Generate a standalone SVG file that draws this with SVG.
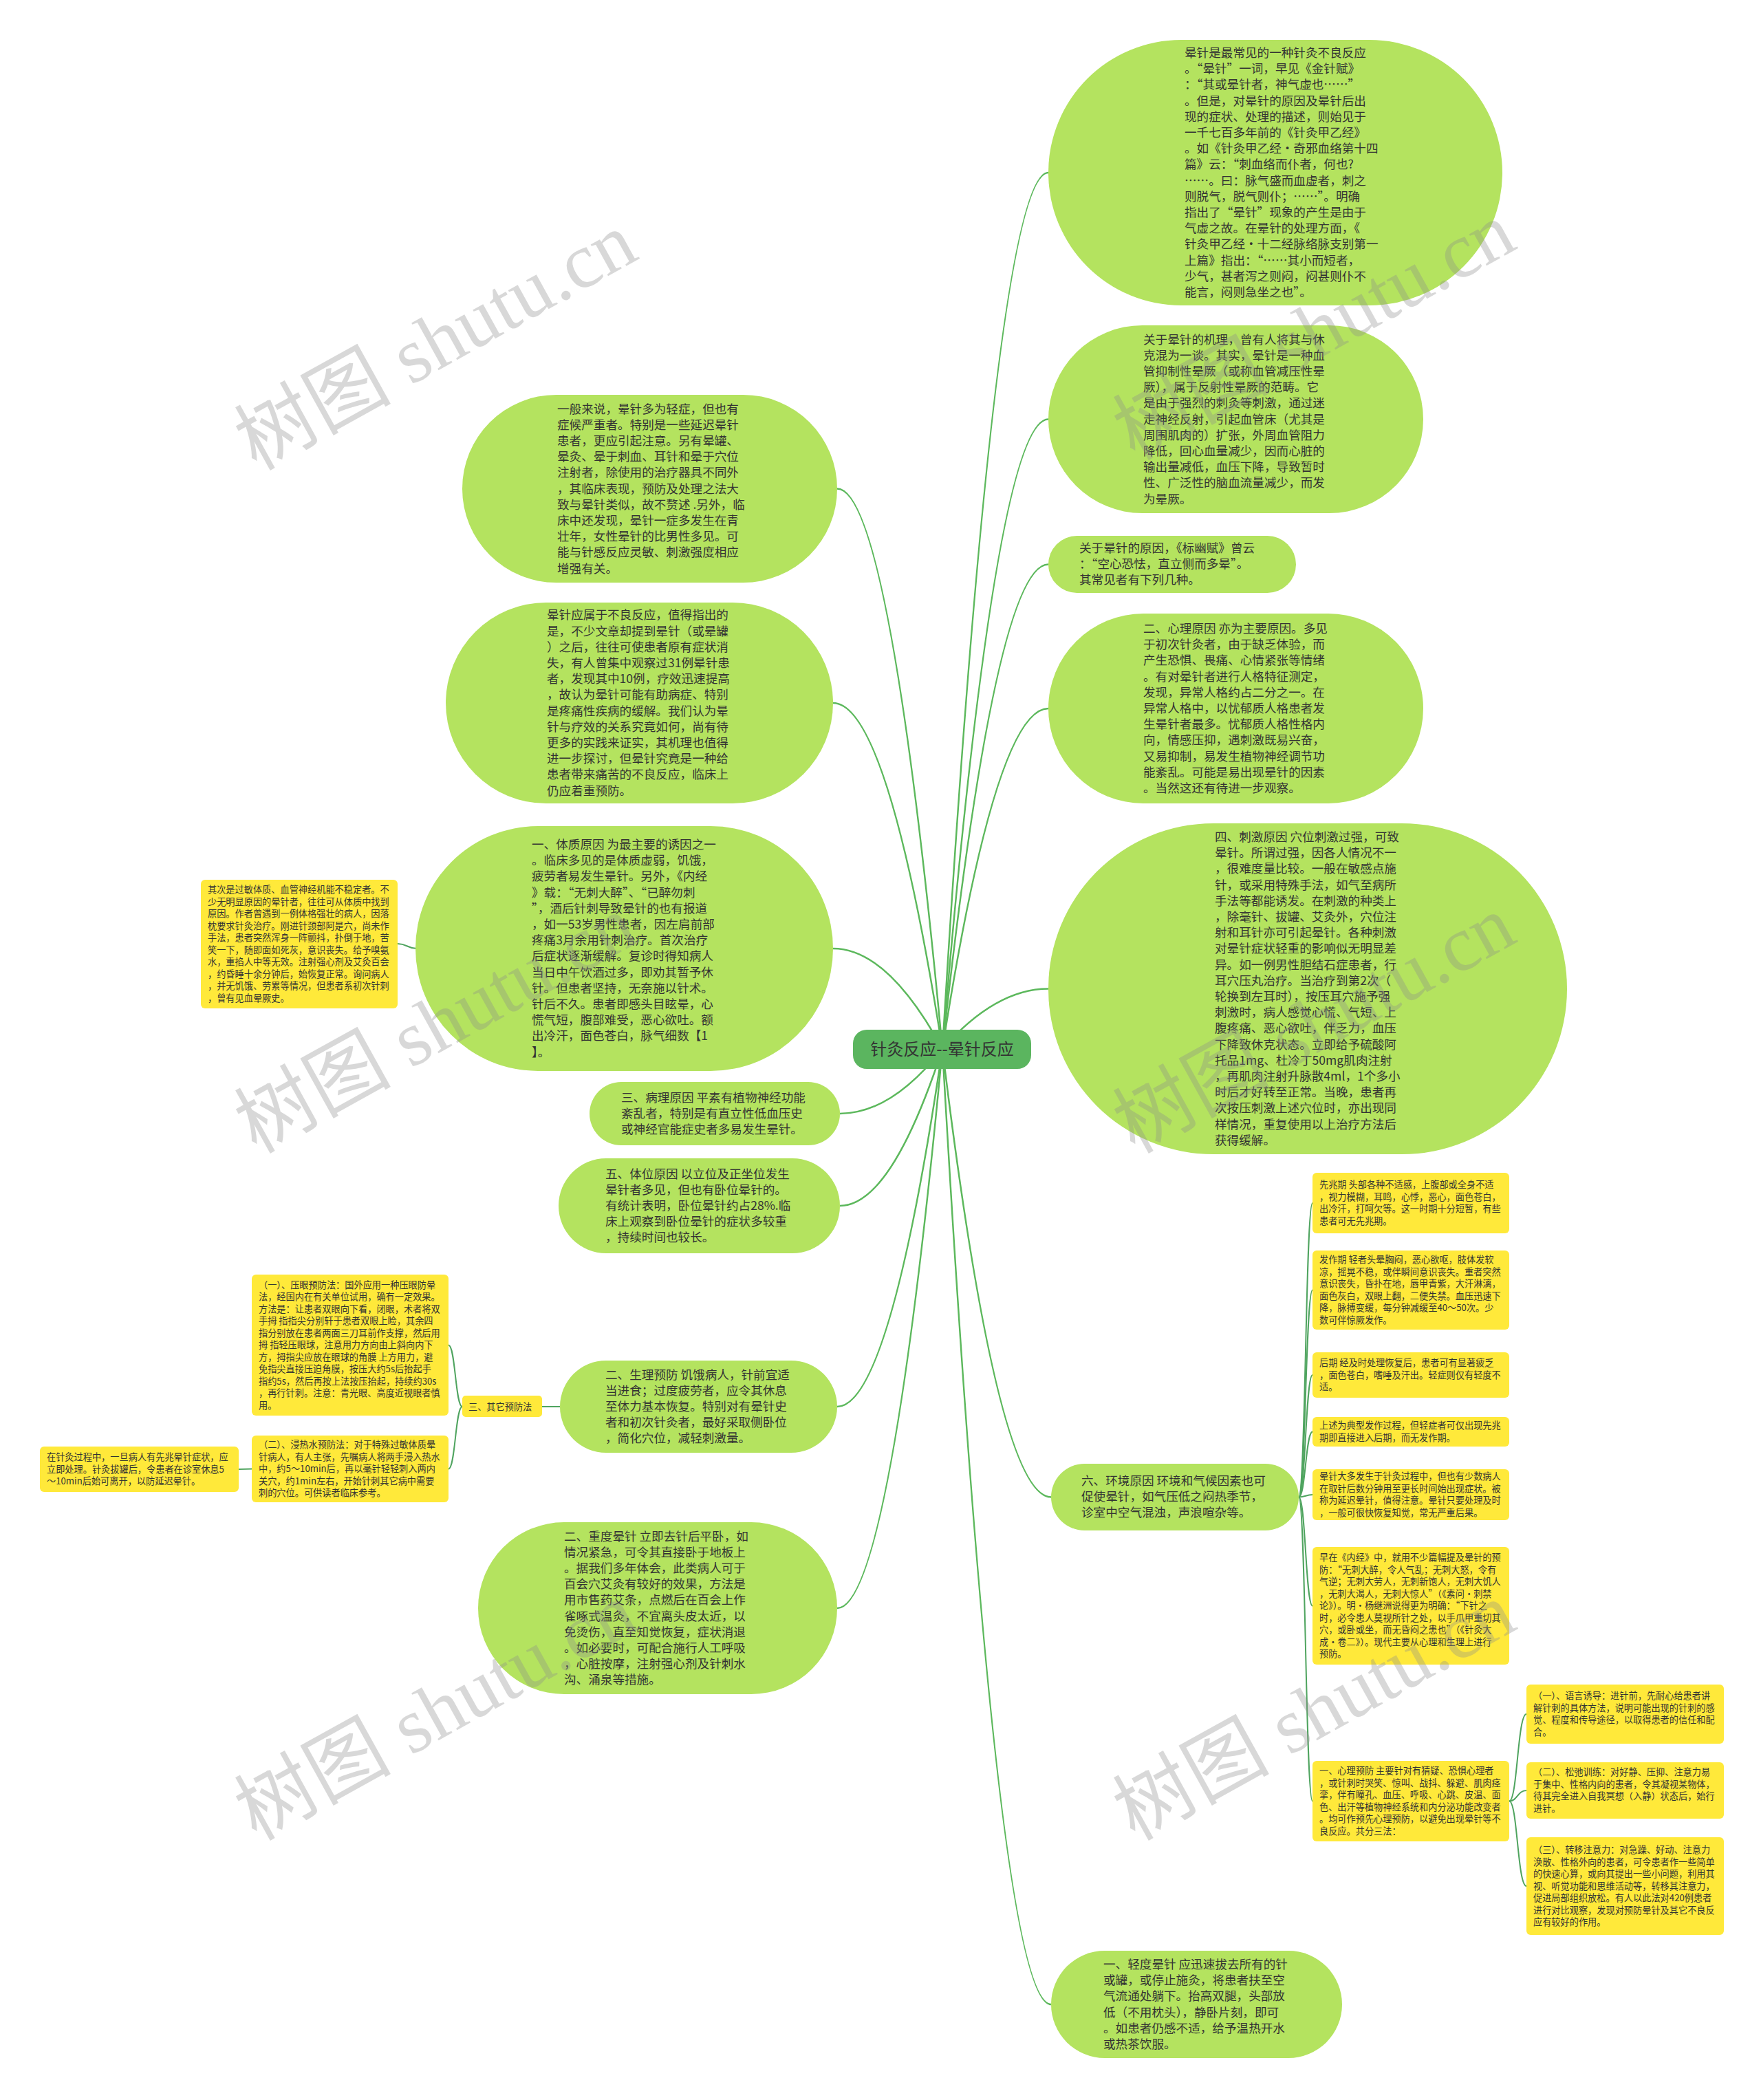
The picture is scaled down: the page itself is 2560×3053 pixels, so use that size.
<svg xmlns="http://www.w3.org/2000/svg" width="2560" height="3053" viewBox="0 0 2560 3053">
<style>
.b{fill:#b4e35f}
.y{fill:#ffe93a}
.c{fill:#5bb55f}
.t{font-family:"Noto Sans CJK SC","Noto Sans",sans-serif;font-size:17.6px;fill:#333}
.s{font-family:"Noto Sans CJK SC","Noto Sans",sans-serif;font-size:13.2px;fill:#333}
.ct{font-family:"Noto Sans CJK SC","Noto Sans",sans-serif;font-size:24px;fill:#333}
.e{fill:none;stroke:#5cb85c;stroke-width:2.5}
.f{fill:none;stroke:#4fa45f;stroke-width:2}
.w{font-family:"Liberation Serif","Noto Sans CJK SC",serif;font-size:114px;fill:#8c8c8c;opacity:.33}
</style>
<rect width="2560" height="3053" fill="#fff"/>
<g id="connectors">
<path class="e" d="M1370 1525 Q1447 251 1524 251"/>
<path class="e" d="M1370 1525 Q1447 609.5 1524 609.5"/>
<path class="e" d="M1370 1525 Q1447 820.5 1524 820.5"/>
<path class="e" d="M1370 1525 Q1447 1030 1524 1030"/>
<path class="e" d="M1370 1525 Q1447 1437.5 1524 1437.5"/>
<path class="e" d="M1370 1525 Q1449 2176.5 1528 2176.5"/>
<path class="e" d="M1370 1525 Q1449 2914 1528 2914"/>
<path class="e" d="M1370 1525 Q1293.5 710.5 1217 710.5"/>
<path class="e" d="M1370 1525 Q1290.5 1022 1211 1022"/>
<path class="e" d="M1370 1525 Q1290.5 1379 1211 1379"/>
<path class="e" d="M1370 1525 Q1295.5 1619 1221 1619"/>
<path class="e" d="M1370 1525 Q1295.5 1753 1221 1753"/>
<path class="e" d="M1370 1525 Q1293.5 2045 1217 2045"/>
<path class="e" d="M1370 1525 Q1293.5 2338 1217 2338"/>
<path class="f" d="M606 1379 C592 1379 592 1372 578 1372"/>
<path class="f" d="M814 2045 L788 2045"/>
<path class="f" d="M672 2045 C662 2045 662 1955.5 652 1955.5"/>
<path class="f" d="M672 2045 C662 2045 662 2135.5 652 2135.5"/>
<path class="f" d="M366 2135.5 L347 2136"/>
<path class="f" d="M1888 2176.5 C1898 2176.5 1898 1749 1908 1749"/>
<path class="f" d="M1888 2176.5 C1898 2176.5 1898 1875.5 1908 1875.5"/>
<path class="f" d="M1888 2176.5 C1898 2176.5 1898 1999 1908 1999"/>
<path class="f" d="M1888 2176.5 C1898 2176.5 1898 2081.5 1908 2081.5"/>
<path class="f" d="M1888 2176.5 C1898 2176.5 1898 2173 1908 2173"/>
<path class="f" d="M1888 2176.5 C1898 2176.5 1898 2334.5 1908 2334.5"/>
<path class="f" d="M1888 2176.5 C1898 2176.5 1898 2618.5 1908 2618.5"/>
<path class="f" d="M2194 2618.5 C2206 2618.5 2206 2492 2219 2492"/>
<path class="f" d="M2194 2618.5 C2206 2618.5 2206 2603 2219 2603"/>
<path class="f" d="M2194 2618.5 C2206 2618.5 2206 2742 2219 2742"/>
</g>
<g id="node-center">
<rect class="c" x="1240" y="1497" width="259" height="57" rx="20"/>
<text class="ct" x="1369.5" y="1533.5" text-anchor="middle">针灸反应--晕针反应</text>
</g>
<g id="node-r1">
<rect class="b" x="1524" y="58" width="660" height="386" rx="193"/>
<text class="t" y="83"><tspan x="1722">晕针是最常见的一种针灸不良反应</tspan><tspan x="1722" dy="23.2">。“晕针”一词，早见《金针赋》</tspan><tspan x="1722" dy="23.2">：“其或晕针者，神气虚也……”</tspan><tspan x="1722" dy="23.2">。但是，对晕针的原因及晕针后出</tspan><tspan x="1722" dy="23.2">现的症状、处理的描述，则始见于</tspan><tspan x="1722" dy="23.2">一千七百多年前的《针灸甲乙经》</tspan><tspan x="1722" dy="23.2">。如《针灸甲乙经·奇邪血络第十四</tspan><tspan x="1722" dy="23.2">篇》云：“刺血络而仆者，何也?</tspan><tspan x="1722" dy="23.2">……。曰：脉气盛而血虚者，刺之</tspan><tspan x="1722" dy="23.2">则脱气，脱气则仆；……”。明确</tspan><tspan x="1722" dy="23.2">指出了“晕针”现象的产生是由于</tspan><tspan x="1722" dy="23.2">气虚之故。在晕针的处理方面，《</tspan><tspan x="1722" dy="23.2">针灸甲乙经·十二经脉络脉支别第一</tspan><tspan x="1722" dy="23.2">上篇》指出：“……其小而短者，</tspan><tspan x="1722" dy="23.2">少气，甚者泻之则闷，闷甚则仆不</tspan><tspan x="1722" dy="23.2">能言，闷则急坐之也”。</tspan></text>
</g>
<g id="node-r2">
<rect class="b" x="1524" y="473" width="545" height="273" rx="136.5"/>
<text class="t" y="499.5"><tspan x="1662">关于晕针的机理，曾有人将其与休</tspan><tspan x="1662" dy="23.2">克混为一谈。其实，晕针是一种血</tspan><tspan x="1662" dy="23.2">管抑制性晕厥（或称血管减压性晕</tspan><tspan x="1662" dy="23.2">厥），属于反射性晕厥的范畴。它</tspan><tspan x="1662" dy="23.2">是由于强烈的刺灸等刺激，通过迷</tspan><tspan x="1662" dy="23.2">走神经反射，引起血管床（尤其是</tspan><tspan x="1662" dy="23.2">周围肌肉的）扩张，外周血管阻力</tspan><tspan x="1662" dy="23.2">降低，回心血量减少，因而心脏的</tspan><tspan x="1662" dy="23.2">输出量减低，血压下降，导致暂时</tspan><tspan x="1662" dy="23.2">性、广泛性的脑血流量减少，而发</tspan><tspan x="1662" dy="23.2">为晕厥。</tspan></text>
</g>
<g id="node-r3">
<rect class="b" x="1524" y="779" width="360" height="83" rx="41.5"/>
<text class="t" y="803"><tspan x="1569">关于晕针的原因，《标幽赋》曾云</tspan><tspan x="1569" dy="23.2">：“空心恐怯，直立侧而多晕”。</tspan><tspan x="1569" dy="23.2">其常见者有下列几种。</tspan></text>
</g>
<g id="node-r4">
<rect class="b" x="1524" y="892" width="545" height="276" rx="138"/>
<text class="t" y="920"><tspan x="1662">二、心理原因 亦为主要原因。多见</tspan><tspan x="1662" dy="23.2">于初次针灸者，由于缺乏体验，而</tspan><tspan x="1662" dy="23.2">产生恐惧、畏痛、心情紧张等情绪</tspan><tspan x="1662" dy="23.2">。有对晕针者进行人格特征测定，</tspan><tspan x="1662" dy="23.2">发现，异常人格约占二分之一。在</tspan><tspan x="1662" dy="23.2">异常人格中，以忧郁质人格患者发</tspan><tspan x="1662" dy="23.2">生晕针者最多。忧郁质人格性格内</tspan><tspan x="1662" dy="23.2">向，情感压抑，遇刺激既易兴奋，</tspan><tspan x="1662" dy="23.2">又易抑制，易发生植物神经调节功</tspan><tspan x="1662" dy="23.2">能紊乱。可能是易出现晕针的因素</tspan><tspan x="1662" dy="23.2">。当然这还有待进一步观察。</tspan></text>
</g>
<g id="node-r5">
<rect class="b" x="1524" y="1197" width="754" height="481" rx="240"/>
<text class="t" y="1223"><tspan x="1766">四、刺激原因 穴位刺激过强，可致</tspan><tspan x="1766" dy="23.2">晕针。所谓过强，因各人情况不一</tspan><tspan x="1766" dy="23.2">，很难度量比较。一般在敏感点施</tspan><tspan x="1766" dy="23.2">针，或采用特殊手法，如气至病所</tspan><tspan x="1766" dy="23.2">手法等都能诱发。在刺激的种类上</tspan><tspan x="1766" dy="23.2">，除毫针、拔罐、艾灸外，穴位注</tspan><tspan x="1766" dy="23.2">射和耳针亦可引起晕针。各种刺激</tspan><tspan x="1766" dy="23.2">对晕针症状轻重的影响似无明显差</tspan><tspan x="1766" dy="23.2">异。如一例男性胆结石症患者，行</tspan><tspan x="1766" dy="23.2">耳穴压丸治疗。当治疗到第2次（</tspan><tspan x="1766" dy="23.2">轮换到左耳时），按压耳穴施予强</tspan><tspan x="1766" dy="23.2">刺激时，病人感觉心慌、气短、上</tspan><tspan x="1766" dy="23.2">腹疼痛、恶心欲吐，伴乏力，血压</tspan><tspan x="1766" dy="23.2">下降致休克状态。立即给予硫酸阿</tspan><tspan x="1766" dy="23.2">托品1mg、杜冷丁50mg肌肉注射</tspan><tspan x="1766" dy="23.2">，再肌肉注射升脉散4ml，1个多小</tspan><tspan x="1766" dy="23.2">时后才好转至正常。当晚，患者再</tspan><tspan x="1766" dy="23.2">次按压刺激上述穴位时，亦出现同</tspan><tspan x="1766" dy="23.2">样情况，重复使用以上治疗方法后</tspan><tspan x="1766" dy="23.2">获得缓解。</tspan></text>
</g>
<g id="node-r6">
<rect class="b" x="1528" y="2128" width="360" height="97" rx="48.5"/>
<text class="t" y="2159"><tspan x="1572">六、环境原因 环境和气候因素也可</tspan><tspan x="1572" dy="23.2">促使晕针，如气压低之闷热季节，</tspan><tspan x="1572" dy="23.2">诊室中空气混浊，声浪喧杂等。</tspan></text>
</g>
<g id="node-y1">
<rect class="y" x="1908" y="1705" width="286" height="88" rx="6"/>
<text class="s" y="1727.4"><tspan x="1918">先兆期 头部各种不适感，上腹部或全身不适</tspan><tspan x="1918" dy="17.5">，视力模糊，耳鸣，心悸，恶心，面色苍白，</tspan><tspan x="1918" dy="17.5">出冷汗，打呵欠等。这一时期十分短暂，有些</tspan><tspan x="1918" dy="17.5">患者可无先兆期。</tspan></text>
</g>
<g id="node-y2">
<rect class="y" x="1908" y="1818" width="286" height="115" rx="6"/>
<text class="s" y="1836.4"><tspan x="1918">发作期 轻者头晕胸闷，恶心欲呕，肢体发软</tspan><tspan x="1918" dy="17.5">凉，摇晃不稳，或伴瞬间意识丧失。重者突然</tspan><tspan x="1918" dy="17.5">意识丧失，昏扑在地，唇甲青紫，大汗淋漓，</tspan><tspan x="1918" dy="17.5">面色灰白，双眼上翻，二便失禁。血压迅速下</tspan><tspan x="1918" dy="17.5">降，脉搏变缓，每分钟减缓至40～50次。少</tspan><tspan x="1918" dy="17.5">数可伴惊厥发作。</tspan></text>
</g>
<g id="node-y3">
<rect class="y" x="1908" y="1966" width="286" height="66" rx="6"/>
<text class="s" y="1986.1"><tspan x="1918">后期 经及时处理恢复后，患者可有显著疲乏</tspan><tspan x="1918" dy="17.5">，面色苍白，嗜唾及汗出。轻症则仅有轻度不</tspan><tspan x="1918" dy="17.5">适。</tspan></text>
</g>
<g id="node-y4">
<rect class="y" x="1908" y="2060" width="286" height="43" rx="6"/>
<text class="s" y="2077.4"><tspan x="1918">上述为典型发作过程，但轻症者可仅出现先兆</tspan><tspan x="1918" dy="17.5">期即直接进入后期，而无发作期。</tspan></text>
</g>
<g id="node-y5">
<rect class="y" x="1908" y="2136" width="286" height="74" rx="6"/>
<text class="s" y="2151.4"><tspan x="1918">晕针大多发生于针灸过程中，但也有少数病人</tspan><tspan x="1918" dy="17.5">在取针后数分钟用至更长时间始出现症状。被</tspan><tspan x="1918" dy="17.5">称为延迟晕针，值得注意。晕针只要处理及时</tspan><tspan x="1918" dy="17.5">，一般可很快恢复知觉，常无严重后果。</tspan></text>
</g>
<g id="node-y6">
<rect class="y" x="1908" y="2249" width="286" height="171" rx="6"/>
<text class="s" y="2269.1"><tspan x="1918">早在《内经》中，就用不少篇幅提及晕针的预</tspan><tspan x="1918" dy="17.5">防：“无刺大醉，令人气乱；无刺大怒，令有</tspan><tspan x="1918" dy="17.5">气逆；无刺大劳人，无刺新饱人，无刺大饥人</tspan><tspan x="1918" dy="17.5">，无刺大渴人，无刺大惊人”（《素问·刺禁</tspan><tspan x="1918" dy="17.5">论》）。明·杨继洲说得更为明确：“下针之</tspan><tspan x="1918" dy="17.5">时，必令患人莫视所针之处，以手爪甲重切其</tspan><tspan x="1918" dy="17.5">穴，或卧或坐，而无昏闷之患也”（《针灸大</tspan><tspan x="1918" dy="17.5">成·卷二》）。现代主要从心理和生理上进行</tspan><tspan x="1918" dy="17.5">预防。</tspan></text>
</g>
<g id="node-y7">
<rect class="y" x="1908" y="2560" width="286" height="117" rx="6"/>
<text class="s" y="2579.4"><tspan x="1918">一、心理预防 主要针对有猜疑、恐惧心理者</tspan><tspan x="1918" dy="17.5">，或针刺时哭笑、惊叫、战抖、躲避、肌肉痉</tspan><tspan x="1918" dy="17.5">挛，伴有瞳孔、血压、呼吸、心跳、皮温、面</tspan><tspan x="1918" dy="17.5">色、出汗等植物神经系统和内分泌功能改变者</tspan><tspan x="1918" dy="17.5">。均可作预先心理预防，以避免出现晕针等不</tspan><tspan x="1918" dy="17.5">良反应。共分三法：</tspan></text>
</g>
<g id="node-z1">
<rect class="y" x="2219" y="2449" width="287" height="86" rx="6"/>
<text class="s" y="2470.4"><tspan x="2229">（一）、语言诱导：进针前，先耐心给患者讲</tspan><tspan x="2229" dy="17.5">解针刺的具体方法，说明可能出现的针刺的感</tspan><tspan x="2229" dy="17.5">觉、程度和传导途径，以取得患者的信任和配</tspan><tspan x="2229" dy="17.5">合。</tspan></text>
</g>
<g id="node-z2">
<rect class="y" x="2219" y="2562" width="287" height="82" rx="6"/>
<text class="s" y="2581.4"><tspan x="2229">（二）、松弛训练：对好静、压抑、注意力易</tspan><tspan x="2229" dy="17.5">于集中、性格内向的患者，令其凝视某物体，</tspan><tspan x="2229" dy="17.5">待其完全进入自我冥想（入静）状态后，始行</tspan><tspan x="2229" dy="17.5">进针。</tspan></text>
</g>
<g id="node-z3">
<rect class="y" x="2219" y="2671" width="287" height="142" rx="6"/>
<text class="s" y="2694.1"><tspan x="2229">（三）、转移注意力：对急躁、好动、注意力</tspan><tspan x="2229" dy="17.5">涣散、性格外向的患者，可令患者作一些简单</tspan><tspan x="2229" dy="17.5">的快速心算，或向其提出一些小问题，利用其</tspan><tspan x="2229" dy="17.5">视、听觉功能和思维活动等，转移其注意力，</tspan><tspan x="2229" dy="17.5">促进局部组织放松。有人以此法对420例患者</tspan><tspan x="2229" dy="17.5">进行对比观察，发现对预防晕针及其它不良反</tspan><tspan x="2229" dy="17.5">应有较好的作用。</tspan></text>
</g>
<g id="node-r7">
<rect class="b" x="1528" y="2836" width="423" height="156" rx="78"/>
<text class="t" y="2862"><tspan x="1604">一、轻度晕针 应迅速拔去所有的针</tspan><tspan x="1604" dy="23.2">或罐，或停止施灸，将患者扶至空</tspan><tspan x="1604" dy="23.2">气流通处躺下。抬高双腿，头部放</tspan><tspan x="1604" dy="23.2">低（不用枕头），静卧片刻，即可</tspan><tspan x="1604" dy="23.2">。如患者仍感不适，给予温热开水</tspan><tspan x="1604" dy="23.2">或热茶饮服。</tspan></text>
</g>
<g id="node-l1">
<rect class="b" x="672" y="574" width="545" height="273" rx="136.5"/>
<text class="t" y="600.5"><tspan x="810">一般来说，晕针多为轻症，但也有</tspan><tspan x="810" dy="23.2">症候严重者。特别是一些延迟晕针</tspan><tspan x="810" dy="23.2">患者，更应引起注意。另有晕罐、</tspan><tspan x="810" dy="23.2">晕灸、晕于刺血、耳针和晕于穴位</tspan><tspan x="810" dy="23.2">注射者，除使用的治疗器具不同外</tspan><tspan x="810" dy="23.2">，其临床表现，预防及处理之法大</tspan><tspan x="810" dy="23.2">致与晕针类似，故不赘述 .另外，临</tspan><tspan x="810" dy="23.2">床中还发现，晕针一症多发生在青</tspan><tspan x="810" dy="23.2">壮年，女性晕针的比男性多见。可</tspan><tspan x="810" dy="23.2">能与针感反应灵敏、刺激强度相应</tspan><tspan x="810" dy="23.2">增强有关。</tspan></text>
</g>
<g id="node-l2">
<rect class="b" x="648" y="876" width="563" height="292" rx="146"/>
<text class="t" y="900.4"><tspan x="795">晕针应属于不良反应，值得指出的</tspan><tspan x="795" dy="23.2">是，不少文章却提到晕针（或晕罐</tspan><tspan x="795" dy="23.2">）之后，往往可使患者原有症状消</tspan><tspan x="795" dy="23.2">失，有人曾集中观察过31例晕针患</tspan><tspan x="795" dy="23.2">者，发现其中10例，疗效迅速提高</tspan><tspan x="795" dy="23.2">，故认为晕针可能有助病症、特别</tspan><tspan x="795" dy="23.2">是疼痛性疾病的缓解。我们认为晕</tspan><tspan x="795" dy="23.2">针与疗效的关系究竟如何，尚有待</tspan><tspan x="795" dy="23.2">更多的实践来证实，其机理也值得</tspan><tspan x="795" dy="23.2">进一步探讨，但晕针究竟是一种给</tspan><tspan x="795" dy="23.2">患者带来痛苦的不良反应，临床上</tspan><tspan x="795" dy="23.2">仍应着重预防。</tspan></text>
</g>
<g id="node-l3">
<rect class="b" x="604" y="1201" width="607" height="356" rx="178"/>
<text class="t" y="1234"><tspan x="773">一、体质原因 为最主要的诱因之一</tspan><tspan x="773" dy="23.2">。临床多见的是体质虚弱，饥饿，</tspan><tspan x="773" dy="23.2">疲劳者易发生晕针。另外，《内经</tspan><tspan x="773" dy="23.2">》载：“无刺大醉”、“已醉勿刺</tspan><tspan x="773" dy="23.2">”，酒后针刺导致晕针的也有报道</tspan><tspan x="773" dy="23.2">，如一53岁男性患者，因左肩前部</tspan><tspan x="773" dy="23.2">疼痛3月余用针刺治疗。首次治疗</tspan><tspan x="773" dy="23.2">后症状逐渐缓解。复诊时得知病人</tspan><tspan x="773" dy="23.2">当日中午饮酒过多，即劝其暂予休</tspan><tspan x="773" dy="23.2">针。但患者坚持，无奈施以针术。</tspan><tspan x="773" dy="23.2">针后不久。患者即感头目眩晕，心</tspan><tspan x="773" dy="23.2">慌气短，腹部难受，恶心欲吐。额</tspan><tspan x="773" dy="23.2">出冷汗，面色苍白，脉气细数【1</tspan><tspan x="773" dy="23.2">】。</tspan></text>
</g>
<g id="node-yl1">
<rect class="y" x="292" y="1279" width="286" height="187" rx="6"/>
<text class="s" y="1298.4"><tspan x="302">其次是过敏体质、血管神经机能不稳定者。不</tspan><tspan x="302" dy="17.5">少无明显原因的晕针者，往往可从体质中找到</tspan><tspan x="302" dy="17.5">原因。作者曾遇到一例体格强壮的病人，因落</tspan><tspan x="302" dy="17.5">枕要求针灸治疗。刚进针颈部阿是穴，尚未作</tspan><tspan x="302" dy="17.5">手法，患者突然浑身一阵颤抖，扑倒于地，苦</tspan><tspan x="302" dy="17.5">笑一下，随即面如死灰，意识丧失。给予嗅氨</tspan><tspan x="302" dy="17.5">水，重掐人中等无效。注射强心剂及艾灸百会</tspan><tspan x="302" dy="17.5">，约昏睡十余分钟后，始恢复正常。询问病人</tspan><tspan x="302" dy="17.5">，并无饥饿、劳累等情况，但患者系初次针刺</tspan><tspan x="302" dy="17.5">，曾有见血晕厥史。</tspan></text>
</g>
<g id="node-l4">
<rect class="b" x="857" y="1573" width="364" height="92" rx="46"/>
<text class="t" y="1602"><tspan x="903">三、病理原因 平素有植物神经功能</tspan><tspan x="903" dy="23.2">紊乱者，特别是有直立性低血压史</tspan><tspan x="903" dy="23.2">或神经官能症史者多易发生晕针。</tspan></text>
</g>
<g id="node-l5">
<rect class="b" x="812" y="1684" width="409" height="138" rx="69"/>
<text class="t" y="1712.6"><tspan x="880">五、体位原因 以立位及正坐位发生</tspan><tspan x="880" dy="23.2">晕针者多见，但也有卧位晕针的。</tspan><tspan x="880" dy="23.2">有统计表明，卧位晕针约占28%.临</tspan><tspan x="880" dy="23.2">床上观察到卧位晕针的症状多较重</tspan><tspan x="880" dy="23.2">，持续时间也较长。</tspan></text>
</g>
<g id="node-l6">
<rect class="b" x="814" y="1978" width="403" height="134" rx="67"/>
<text class="t" y="2004.6"><tspan x="880">二、生理预防 饥饿病人，针前宜适</tspan><tspan x="880" dy="23.2">当进食；过度疲劳者，应令其休息</tspan><tspan x="880" dy="23.2">至体力基本恢复。特别对有晕针史</tspan><tspan x="880" dy="23.2">者和初次针灸者，最好采取侧卧位</tspan><tspan x="880" dy="23.2">，简化穴位，减轻刺激量。</tspan></text>
</g>
<g id="node-other">
<rect class="y" x="672" y="2029" width="116" height="31" rx="5"/>
<text class="s" x="681" y="2049.5">三、其它预防法</text>
</g>
<g id="node-yl2">
<rect class="y" x="366" y="1853" width="286" height="205" rx="6"/>
<text class="s" y="1872.6"><tspan x="376">（一）、压眼预防法：国外应用一种压眼防晕</tspan><tspan x="376" dy="17.5">法，经国内在有关单位试用，确有一定效果。</tspan><tspan x="376" dy="17.5">方法是：让患者双眼向下看，闭眼，术者将双</tspan><tspan x="376" dy="17.5">手拇 指指尖分别轩于患者双眼上睑，其余四</tspan><tspan x="376" dy="17.5">指分别放在患者两面三刀耳前作支撑，然后用</tspan><tspan x="376" dy="17.5">拇 指轻压眼球，注意用力方向由上斜向内下</tspan><tspan x="376" dy="17.5">方，拇指尖应放在眼球的角膜 上方用力，避</tspan><tspan x="376" dy="17.5">免指尖直接压迫角膜，按压大约5s后抬起手</tspan><tspan x="376" dy="17.5">指约5s，然后再按上法按压抬起，持续约30s</tspan><tspan x="376" dy="17.5">，再行针刺。注意：青光眼、高度近视眼者慎</tspan><tspan x="376" dy="17.5">用。</tspan></text>
</g>
<g id="node-yl3">
<rect class="y" x="366" y="2087" width="286" height="97" rx="6"/>
<text class="s" y="2105.1"><tspan x="376">（二）、浸热水预防法：对于特殊过敏体质晕</tspan><tspan x="376" dy="17.5">针病人，有人主张，先嘱病人将两手浸入热水</tspan><tspan x="376" dy="17.5">中，约5～10min后，再以毫针轻轻刺入两内</tspan><tspan x="376" dy="17.5">关穴，约1min左右，开始针刺其它病中需要</tspan><tspan x="376" dy="17.5">刺的穴位。可供读者临床参考。</tspan></text>
</g>
<g id="node-yl4">
<rect class="y" x="58" y="2103" width="289" height="66" rx="6"/>
<text class="s" y="2123.1"><tspan x="68">在针灸过程中，一旦病人有先兆晕针症状，应</tspan><tspan x="68" dy="17.5">立即处理。针灸拔罐后，令患者在诊室休息5</tspan><tspan x="68" dy="17.5">～10min后始可离开，以防延迟晕针。</tspan></text>
</g>
<g id="node-l7">
<rect class="b" x="695" y="2213" width="522" height="250" rx="125"/>
<text class="t" y="2239.6"><tspan x="820">二、重度晕针 立即去针后平卧，如</tspan><tspan x="820" dy="23.2">情况紧急，可令其直接卧于地板上</tspan><tspan x="820" dy="23.2">。据我们多年体会，此类病人可于</tspan><tspan x="820" dy="23.2">百会穴艾灸有较好的效果，方法是</tspan><tspan x="820" dy="23.2">用市售药艾条，点燃后在百会上作</tspan><tspan x="820" dy="23.2">雀啄式温灸，不宜离头皮太近，以</tspan><tspan x="820" dy="23.2">免烫伤，直至知觉恢复，症状消退</tspan><tspan x="820" dy="23.2">。如必要时，可配合施行人工呼吸</tspan><tspan x="820" dy="23.2">，心脏按摩，注射强心剂及针刺水</tspan><tspan x="820" dy="23.2">沟、涌泉等措施。</tspan></text>
</g>
<g id="watermark">
<text class="w" text-anchor="middle" transform="translate(652 530) rotate(-29)">树图 shutu.cn</text>
<text class="w" text-anchor="middle" transform="translate(1929 515) rotate(-29)">树图 shutu.cn</text>
<text class="w" text-anchor="middle" transform="translate(652 1523) rotate(-29)">树图 shutu.cn</text>
<text class="w" text-anchor="middle" transform="translate(1929 1523) rotate(-29)">树图 shutu.cn</text>
<text class="w" text-anchor="middle" transform="translate(652 2522) rotate(-29)">树图 shutu.cn</text>
<text class="w" text-anchor="middle" transform="translate(1929 2522) rotate(-29)">树图 shutu.cn</text>
</g>
</svg>
